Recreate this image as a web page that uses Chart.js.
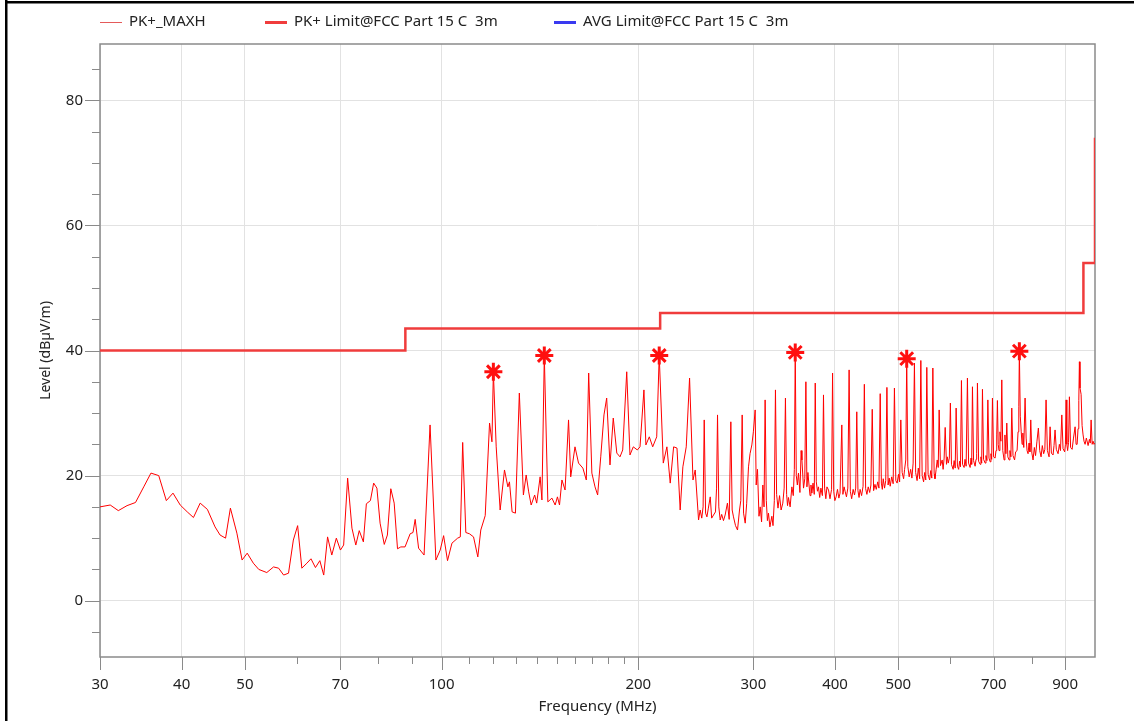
<!DOCTYPE html>
<html>
<head>
<meta charset="utf-8">
<script src="https://cdn.jsdelivr.net/npm/chart.js@4.4.1/dist/chart.umd.min.js"></script>
<style>
  html, body { margin: 0; padding: 0; background: #fff; }
  canvas { display: block; }
</style>
</head>
<body>
<canvas id="emc_scan" width="1134" height="721"></canvas>
<script>
// PK+ max hold trace (MHz, dBuV/m)
const maxhFreq = [
  30.0, 31.1, 32.0, 33.0, 34.0, 35.0, 35.9, 36.9, 37.9, 38.8, 39.8, 40.8, 41.7, 42.7, 43.8, 45.0,
  45.8, 46.7, 47.5, 48.6, 49.5, 50.4, 51.5, 52.5, 54.0, 55.3, 56.3, 57.3, 58.3, 59.3, 60.2, 61.1,
  62.2, 63.1, 64.1, 65.1, 66.0, 66.9, 67.9, 69.0, 70.0, 70.8, 71.8, 72.9, 73.9, 74.8, 75.9, 76.7,
  77.8, 78.7, 79.6, 80.5, 81.7, 82.6, 83.6, 84.6, 85.6, 86.6, 87.9, 89.5, 90.4, 91.1, 92.2, 94.0,
  96.0, 98.0, 99.5, 100.7, 102.1, 103.7, 105.8, 106.8, 107.7, 108.9, 110.3, 111.9, 113.6, 114.8, 116.6, 118.4,
  119.4, 120.0, 121.2, 122.9, 124.8, 126.3, 127.0, 128.2, 129.7, 131.5, 133.4, 134.7, 135.9, 137.1, 138.8, 139.8,
  141.5, 142.4, 143.6, 145.4, 147.5, 149.2, 150.4, 151.5, 152.8, 154.5, 156.4, 157.6, 160.0, 162.0, 164.5, 166.5,
  167.9, 169.8, 171.7, 173.3, 175.2, 177.2, 178.9, 181.0, 183.1, 185.4, 187.5, 189.3, 192.0, 194.2, 196.5, 199.3,
  201.2, 204.0, 205.4, 207.9, 210.4, 213.4, 215.3, 218.4, 221.2, 223.8, 226.5, 229.2, 231.8, 234.0, 236.8, 239.6,
  242.5, 244.4, 247.3, 248.7, 250.1, 251.3, 252.3, 253.5, 254.7, 256.0, 257.7, 259.0, 260.7, 262.5, 263.5, 264.4,
  265.6, 266.9, 268.3, 270.0, 271.6, 273.8, 275.5, 277.1, 278.4, 279.7, 281.7, 283.7, 285.7, 287.0, 288.4, 289.8,
  291.5, 293.0, 294.9, 296.5, 298.4, 300.0, 301.9, 303.0, 304.4, 306.0, 307.3, 308.8, 310.2, 311.5, 312.7, 314.0,
  315.2, 316.4, 318.0, 320.2, 321.5, 323.0, 324.3, 325.6, 327.2, 329.0, 330.8, 332.8, 334.4, 335.9, 337.3, 338.4,
  339.5, 341.5, 343.6, 345.3, 346.6, 347.7, 349.0, 350.3, 351.7, 353.5, 355.0, 356.0, 358.0, 359.6, 361.0, 362.3,
  363.6, 364.4, 366.3, 367.5, 368.7, 370.2, 371.8, 373.1, 374.5, 376.0, 377.4, 379.0, 380.6, 382.6, 384.1, 385.6,
  387.3, 388.8, 391.0, 393.0, 395.2, 396.6, 398.2, 399.8, 401.6, 403.5, 405.5, 407.2, 409.7, 411.3, 413.0, 414.5,
  416.5, 418.5, 420.4, 422.2, 424.2, 426.4, 428.5, 430.3, 431.9, 433.7, 435.4, 437.0, 439.3, 441.6, 443.6, 445.6,
  447.6, 449.7, 452.0, 454.0, 456.1, 458.3, 460.5, 462.6, 465.0, 467.0, 469.1, 471.0, 472.6, 474.1, 476.3, 478.3,
  480.3, 482.3, 484.2, 485.9, 488.5, 491.0, 493.2, 495.6, 497.9, 500.3, 502.3, 504.4, 506.8, 509.4, 511.2, 513.3,
  515.0, 517.0, 519.5, 522.2, 524.5, 526.8, 529.2, 531.5, 534.2, 536.5, 539.0, 541.3, 543.8, 546.6, 548.7, 550.8,
  552.8, 555.3, 558.3, 560.5, 562.6, 564.7, 567.3, 569.0, 571.3, 573.5, 575.5, 577.4, 580.0, 583.6, 585.5, 587.6,
  589.8, 592.5, 594.3, 596.2, 598.5, 600.7, 603.0, 606.6, 608.7, 611.0, 613.0, 615.8, 618.5, 620.5, 622.5, 624.6,
  627.0, 630.5, 632.5, 635.0, 637.9, 640.5, 644.0, 646.0, 647.5, 649.3, 651.8, 655.4, 657.5, 659.0, 660.8, 663.5,
  667.1, 669.0, 670.8, 672.6, 675.2, 679.0, 681.0, 683.3, 685.5, 688.3, 691.1, 693.0, 694.8, 696.7, 699.5, 703.2,
  705.5, 707.3, 709.0, 711.0, 713.0, 715.3, 717.8, 720.0, 722.5, 725.9, 728.0, 730.5, 732.8, 735.5, 738.8, 741.0,
  743.5, 745.8, 749.0, 753.2, 756.0, 759.9, 762.5, 764.5, 766.0, 768.5, 771.0, 773.4, 775.5, 778.0, 781.6, 784.5,
  787.0, 789.9, 792.5, 795.0, 797.4, 800.5, 803.9, 807.5, 811.0, 815.0, 819.1, 823.0, 826.9, 830.5, 834.5, 838.0,
  841.6, 845.5, 850.6, 853.6, 857.5, 862.6, 865.5, 868.7, 872.5, 878.0, 882.0, 885.5, 889.6, 893.5, 898.6, 901.0,
  903.2, 905.5, 908.0, 911.0, 913.8, 917.5, 922.5, 927.0, 932.3, 935.5, 938.9, 942.0, 944.5, 946.5, 948.5, 952.2,
  955.5, 958.9, 962.0, 965.7, 970.0, 976.0, 980.5, 983.5, 986.4, 990.0, 993.2, 996.5, 1000.0
];
const maxhLevel = [
  15.0, 15.3, 14.4, 15.2, 15.7, 18.2, 20.4, 20.0, 16.0, 17.2, 15.3, 14.2, 13.3, 15.6, 14.6, 11.8,
  10.5, 10.0, 14.8, 10.8, 6.5, 7.6, 6.0, 5.0, 4.5, 5.4, 5.2, 4.1, 4.4, 9.7, 12.0, 5.2,
  6.0, 6.7, 5.3, 6.4, 4.1, 10.2, 7.3, 10.0, 8.1, 8.9, 19.6, 11.6, 8.9, 11.2, 9.4, 15.5,
  16.0, 18.8, 18.0, 12.4, 9.0, 10.5, 17.9, 15.6, 8.3, 8.6, 8.6, 10.7, 10.9, 13.0, 8.4, 7.3,
  28.1, 6.5, 8.1, 10.4, 6.4, 9.2, 10.0, 10.2, 25.3, 10.9, 10.7, 10.2, 7.0, 11.3, 13.6, 28.4,
  25.4, 36.6, 24.6, 14.5, 20.9, 18.2, 19.0, 14.2, 14.0, 33.2, 16.9, 20.1, 17.4, 15.3, 16.9, 15.6,
  19.8, 16.1, 39.2, 15.8, 16.4, 15.3, 16.6, 15.3, 19.3, 17.7, 28.9, 19.8, 24.6, 22.0, 21.2, 19.3,
  36.4, 20.4, 18.2, 16.9, 23.0, 29.7, 32.4, 21.7, 29.2, 23.6, 23.0, 24.1, 36.6, 23.3, 24.6, 24.1,
  24.6, 33.7, 24.9, 26.2, 24.6, 26.2, 39.2, 22.0, 24.6, 18.8, 24.6, 24.4, 14.5, 21.4, 24.6, 35.6,
  19.3, 20.9, 12.9, 14.5, 13.2, 15.0, 28.9, 14.0, 13.4, 14.8, 16.6, 13.2, 13.7, 14.2, 18.0, 29.7,
  15.0, 12.9, 13.8, 12.8, 13.7, 15.6, 13.0, 28.6, 14.5, 13.4, 12.0, 11.3, 14.5, 16.0, 29.7, 14.0,
  12.4, 15.5, 21.4, 23.5, 24.9, 27.0, 30.5, 18.5, 21.0, 13.5, 15.0, 12.6, 18.5, 15.0, 32.1, 16.0,
  12.8, 14.0, 11.8, 13.5, 12.0, 16.0, 33.7, 17.0, 14.8, 16.8, 14.5, 15.6, 18.0, 32.4, 17.0, 15.2,
  16.5, 15.0, 18.2, 16.8, 21.0, 39.7, 20.0, 18.5, 20.4, 17.3, 24.0, 22.5, 18.0, 19.5, 35.0, 18.2,
  20.5, 19.3, 16.8, 18.5, 17.2, 18.8, 17.0, 34.8, 19.0, 17.5, 18.2, 16.5, 18.0, 16.8, 32.9, 18.0,
  16.3, 18.2, 17.7, 16.3, 17.8, 36.4, 17.5, 16.0, 16.6, 17.8, 16.4, 17.2, 28.1, 17.0, 18.2, 17.5,
  16.6, 18.0, 36.9, 17.5, 16.3, 17.8, 16.9, 18.0, 30.2, 17.6, 16.5, 17.8, 16.8, 18.3, 34.6, 17.9,
  17.0, 18.2, 17.3, 18.5, 30.6, 17.6, 18.6, 17.8, 19.0, 18.0, 33.1, 18.8, 17.8, 19.5, 18.0, 19.2,
  34.1, 18.5, 19.6, 18.3, 19.8, 18.7, 34.0, 19.2, 18.8, 20.2, 19.0, 28.9, 20.5, 19.5, 21.0, 22.5,
  38.7, 21.5, 19.8, 21.0, 19.6, 22.0, 38.0, 20.5, 19.2, 21.2, 19.5, 38.4, 20.0, 19.0, 20.5, 19.3,
  37.3, 20.2, 19.3, 20.8, 19.6, 37.2, 20.3, 19.5, 21.0, 22.5, 21.3, 30.5, 21.6, 22.5, 21.0, 22.8,
  27.7, 21.8, 23.0, 22.0, 22.8, 31.6, 21.8, 21.0, 22.4, 21.2, 30.8, 21.5, 21.0, 22.3, 21.4, 35.2,
  21.8, 21.3, 22.6, 21.5, 35.6, 22.0, 21.3, 22.8, 21.8, 34.2, 22.4, 21.5, 22.6, 23.5, 34.8, 22.3,
  21.8, 23.0, 22.0, 33.8, 22.6, 22.0, 23.2, 22.4, 32.1, 22.8, 22.2, 23.5, 22.6, 32.4, 23.0, 22.8,
  24.0, 26.5, 32.0, 25.0, 24.0, 27.0, 25.5, 35.3, 24.0, 22.5, 26.5, 23.5, 28.4, 23.0, 22.5, 24.0,
  23.0, 30.8, 23.2, 22.5, 23.8, 24.0, 27.0, 31.0, 39.9, 29.5, 27.0, 25.0, 26.8, 24.5, 32.4, 26.0,
  24.0, 23.5, 25.2, 23.8, 28.9, 23.6, 22.5, 24.5, 23.2, 25.5, 27.6, 24.0, 23.0, 24.8, 23.5, 24.2,
  32.1, 24.0, 23.0, 27.8, 23.6, 23.3, 24.8, 27.3, 24.2, 23.5, 25.0, 24.0, 29.7, 24.3, 23.8, 25.0,
  32.1, 25.0, 24.0, 25.3, 32.6, 24.5, 24.2, 26.0, 27.8, 25.0, 25.0, 27.5, 32.0, 38.2, 34.0, 33.0,
  28.0, 26.5, 25.5, 25.0, 26.0, 24.8, 25.8, 25.2, 28.9, 25.0, 25.5, 25.0, 25.2
];

// PK+ limit, FCC Part 15 C, 3 m
const limitFreq  = [30, 88, 88, 216, 216, 960, 960, 1000, 1000];
const limitLevel = [40, 40, 43.5, 43.5, 46, 46, 54, 54, 74];

// final peak markers
const markerFreq  = [120.0, 143.6, 215.3, 347.7, 515.0, 766.0];
const markerLevel = [36.6, 39.2, 39.2, 39.7, 38.7, 39.9];

const xTickValues  = [30, 40, 50, 70, 100, 200, 300, 400, 500, 700, 900];
const xMinorValues = [60, 80, 90, 110, 120, 130, 140, 150, 160, 170, 180, 190, 600, 800];
const yTickValues  = [0, 20, 40, 60, 80];
const yMinorValues = [-5, 5, 10, 15, 25, 30, 35, 45, 50, 55, 65, 70, 75, 85];

const FONT = "'Noto Sans', 'Open Sans', sans-serif";

function toPoints(xs, ys) {
  return xs.map((x, i) => ({x: x, y: ys[i]}));
}

// frame, tick marks and legend drawn around the plot
const framePlugin = {
  id: 'frame',
  beforeDraw(chart) {
    const ctx = chart.ctx;
    ctx.save();
    ctx.fillStyle = '#fff';
    ctx.fillRect(0, 0, chart.width, chart.height);
    ctx.fillStyle = '#000';
    ctx.fillRect(5, 0, 2.5, chart.height);
    ctx.fillRect(5, 1, chart.width - 5, 2.5);
    ctx.restore();
  },
  beforeDatasetsDraw(chart) {
    const ctx = chart.ctx;
    const a = chart.chartArea;
    const xs = chart.scales.x, ys = chart.scales.y;
    ctx.save();
    ctx.strokeStyle = '#8a8a8a';
    ctx.lineWidth = 1.5;
    ctx.strokeRect(a.left, a.top, a.right - a.left, a.bottom - a.top);
    ctx.lineWidth = 1;
    ctx.beginPath();
    xTickValues.forEach(v => {
      const px = Math.round(xs.getPixelForValue(v)) + 0.5;
      ctx.moveTo(px, a.bottom); ctx.lineTo(px, a.bottom + 13);
    });
    xMinorValues.forEach(v => {
      const px = Math.round(xs.getPixelForValue(v)) + 0.5;
      ctx.moveTo(px, a.bottom); ctx.lineTo(px, a.bottom + 7);
    });
    yTickValues.forEach(v => {
      const py = Math.round(ys.getPixelForValue(v)) + 0.5;
      ctx.moveTo(a.left, py); ctx.lineTo(a.left - 15, py);
    });
    yMinorValues.forEach(v => {
      const py = Math.round(ys.getPixelForValue(v)) + 0.5;
      ctx.moveTo(a.left, py); ctx.lineTo(a.left - 8, py);
    });
    ctx.stroke();
    ctx.restore();
  },
  afterDraw(chart) {
    const ctx = chart.ctx;
    const items = [
      {text: 'PK+_MAXH', color: '#e45a5a', width: 1, x: 100},
      {text: 'PK+ Limit@FCC Part 15 C  3m', color: '#f03c3c', width: 3, x: 265},
      {text: 'AVG Limit@FCC Part 15 C  3m', color: '#3a3af0', width: 3, x: 554}
    ];
    ctx.save();
    ctx.font = '15px ' + FONT;
    ctx.textBaseline = 'middle';
    ctx.fillStyle = '#222';
    items.forEach(it => {
      ctx.strokeStyle = it.color;
      ctx.lineWidth = it.width;
      ctx.beginPath();
      ctx.moveTo(it.x, 22.5); ctx.lineTo(it.x + 22, 22.5);
      ctx.stroke();
      ctx.fillText(it.text, it.x + 29, 22);
    });
    ctx.restore();
  }
};

const ctx = document.getElementById('emc_scan').getContext('2d');
const chart = new Chart(ctx, {
  type: 'scatter',
  data: {
    datasets: [
      {
        label: 'Final peaks',
        data: toPoints(markerFreq, markerLevel),
        showLine: false,
        pointStyle: 'star',
        pointRadius: 9,
        borderColor: '#ff1010',
        borderWidth: 3,
        order: 0
      },
      {
        label: 'PK+_MAXH',
        data: toPoints(maxhFreq, maxhLevel),
        showLine: true,
        pointRadius: 0,
        borderColor: '#ff0000',
        borderWidth: 1,
        tension: 0,
        order: 1
      },
      {
        label: 'PK+ Limit@FCC Part 15 C  3m',
        data: toPoints(limitFreq, limitLevel),
        showLine: true,
        pointRadius: 0,
        borderColor: '#f03c3c',
        borderWidth: 2.5,
        order: 2
      },
      {
        label: 'AVG Limit@FCC Part 15 C  3m',
        data: [],
        showLine: true,
        pointRadius: 0,
        borderColor: '#3a3af0',
        borderWidth: 2.5,
        order: 3
      }
    ]
  },
  options: {
    responsive: false,
    devicePixelRatio: 1,
    animation: false,
    layout: { padding: { top: 44, right: 39, bottom: 0, left: 0 } },
    plugins: {
      legend: { display: false },
      tooltip: { enabled: false }
    },
    scales: {
      x: {
        type: 'logarithmic',
        min: 30,
        max: 1000,
        afterBuildTicks: s => { s.ticks = xTickValues.map(v => ({value: v})); },
        afterFit: s => { s.height = 64; },
        ticks: {
          autoSkip: false,
          maxRotation: 0,
          padding: 19,
          color: '#222',
          font: { family: FONT, size: 15 },
          callback: v => String(v)
        },
        grid: { color: '#e2e2e2', lineWidth: 1, drawTicks: false },
        border: { display: false },
        title: {
          display: true,
          text: 'Frequency (MHz)',
          color: '#222',
          font: { family: FONT, size: 15 },
          padding: { top: 0, bottom: 5 }
        }
      },
      y: {
        type: 'linear',
        min: -9,
        max: 89,
        afterBuildTicks: s => { s.ticks = yTickValues.map(v => ({value: v})); },
        afterFit: s => { s.width = 100; },
        ticks: {
          padding: 17,
          color: '#222',
          font: { family: FONT, size: 15 }
        },
        grid: { color: '#e2e2e2', lineWidth: 1, drawTicks: false },
        border: { display: false },
        title: {
          display: true,
          text: 'Level (dBµV/m)',
          color: '#222',
          font: { family: FONT, size: 14 },
          padding: { top: 38, bottom: 0 }
        }
      }
    }
  },
  plugins: [framePlugin]
});
</script>
</body>
</html>
